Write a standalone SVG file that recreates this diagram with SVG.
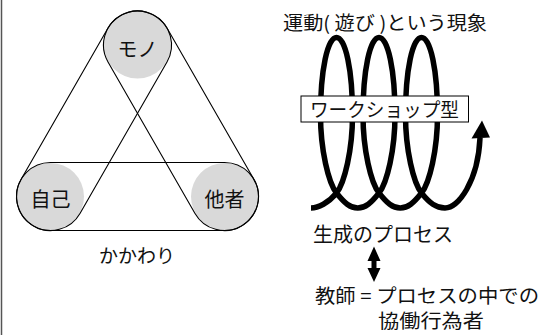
<svg xmlns="http://www.w3.org/2000/svg" width="547" height="335" viewBox="0 0 547 335">
<style>
text{font-family:"Noto Sans CJK JP","Noto Sans",sans-serif;fill:#111;}
.cap{fill:none;stroke:#000;stroke-width:1.1;}
.dot{fill:#d9d9d9;}
.coil{fill:none;stroke:#000;stroke-width:5.5;}
</style>
<rect x="0" y="0" width="547" height="335" fill="#fff"/>
<line x1="1.5" y1="0" x2="1.5" y2="335" stroke="#555" stroke-width="1.5"/>

<g id="node-mono">
<circle class="dot" cx="137.5" cy="45" r="33.5"/>
</g>
<g id="node-jiko">
<circle class="dot" cx="50.5" cy="196.5" r="33.5"/>
</g>
<g id="node-tasha">
<circle class="dot" cx="224.5" cy="196.5" r="33.5"/>
</g>

<g id="connectors">
<rect class="cap" x="16.5" y="162.5" width="242" height="68" rx="34"/>
<rect class="cap" x="-121.35" y="-34" width="242.7" height="68" rx="34" transform="translate(94,120.75) rotate(-60.13)"/>
<rect class="cap" x="-121.35" y="-34" width="242.7" height="68" rx="34" transform="translate(181,120.75) rotate(60.13)"/>
</g>

<g id="labels-left">
<text x="137.5" y="57" font-size="20" text-anchor="middle">モノ</text>
<text x="50.5" y="207" font-size="20" text-anchor="middle">自己</text>
<text x="224.5" y="207" font-size="20" text-anchor="middle">他者</text>
<text x="137" y="263" font-size="19" text-anchor="middle">かかわり</text>
</g>

<g id="title">
<text x="283" y="30" font-size="19" textLength="204" lengthAdjust="spacingAndGlyphs">運動( 遊び )という現象</text>
</g>

<g id="coil">
<path class="coil" d="M311,208 C318,208 328.5,203 336.5,193
C344.5,183 352.5,150 352.5,115 C352.5,70 345.5,37.5 336.5,37.5 C327.5,37.5 320.5,70 320.5,115 C320.5,150 328.5,183 336.5,193
C344.5,203 350,208 357.75,208 C365.5,208 371,203 379,193
C387,183 395,150 395,115 C395,70 388,37.5 379,37.5 C370,37.5 363,70 363,115 C363,150 371,183 379,193
C387,203 392.5,208 400.25,208 C408,208 413.5,203 421.5,193
C429.5,183 437.5,150 437.5,115 C437.5,70 430.5,37.5 421.5,37.5 C412.5,37.5 405.5,70 405.5,115 C405.5,150 413.5,183 421.5,193
C429.5,203 436,208 445,208 C458,208 478,182 480,138"/>
<polygon points="482,120.5 471.5,138.5 490,137.5" fill="#000"/>
</g>

<g id="node-workshop">
<rect x="301" y="96" width="167.5" height="26" fill="#fff" stroke="#000" stroke-width="1"/>
<text x="310" y="117" font-size="19" textLength="149" lengthAdjust="spacingAndGlyphs">ワークショップ型</text>
</g>

<g id="node-process">
<text x="313" y="242" font-size="20">生成のプロセス</text>
</g>

<g id="connector-double">
<polygon points="374,246.5 380.5,261 376.5,261 376.5,268 380.5,268 374,282 367.5,268 371.5,268 371.5,261 367.5,261" fill="#000"/>
</g>

<g id="node-teacher">
<text x="315" y="302.5" font-size="19" textLength="224" lengthAdjust="spacingAndGlyphs">教師 = プロセスの中での</text>
<text x="431" y="328" font-size="19" text-anchor="middle" textLength="106" lengthAdjust="spacingAndGlyphs">協働行為者</text>
</g>
</svg>
